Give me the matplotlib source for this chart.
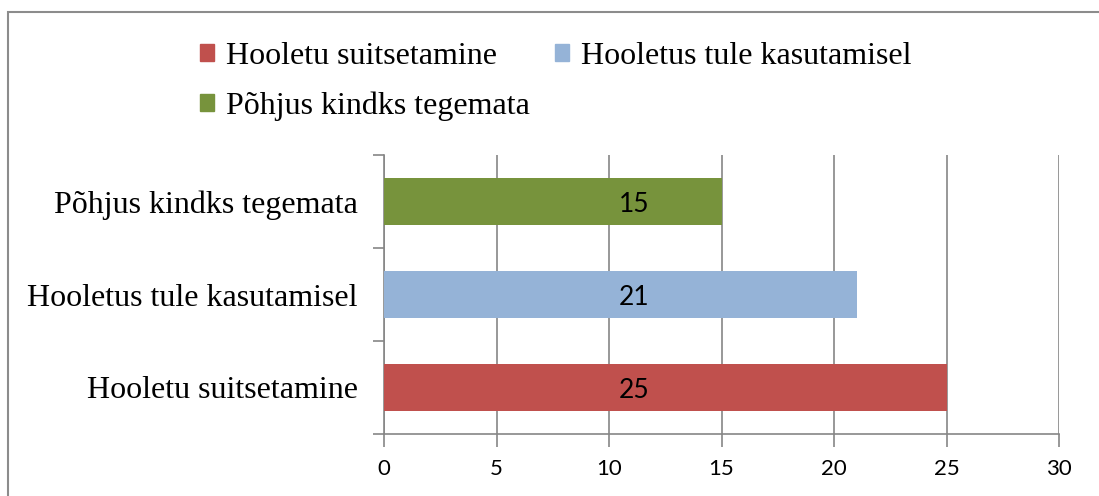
import matplotlib
matplotlib.use("Agg")
import matplotlib.pyplot as plt
from matplotlib.patches import Rectangle, Patch

categories = ["Hooletu suitsetamine", "Hooletus tule kasutamisel", "Põhjus kindks tegemata"]
values = [25, 21, 15]
colors = ["#C0504D", "#95B3D7", "#77933C"]
xticks = [0, 5, 10, 15, 20, 25, 30]

serif = "Liberation Serif"
sans = "Lato"
grid_c = "#868686"
label_x = 11.1  # the original places all value labels at about the same spot

fig = plt.figure(figsize=(10.99, 4.96), dpi=100)
ax = fig.add_axes([384 / 1099, 62 / 496, 675 / 1099, 279 / 496])

y = list(range(len(categories)))
ax.barh(y, values, height=0.5, color=colors, zorder=3)
for yi, v in zip(y, values):
    ax.text(label_x, yi - 0.03, str(v), ha="center", va="center", fontsize=19, family=sans, zorder=4)

ax.set_xlim(0, 30)
ax.set_ylim(-0.5, 2.5)
ax.set_xticks(xticks)
ax.set_xticklabels([str(t) for t in xticks], family=sans, fontsize=16)
ax.set_yticks([-0.5, 0.5, 1.5, 2.5])
ax.set_yticklabels([])
ax.set_yticks(y, minor=True)
ax.set_yticklabels(categories, minor=True, family=serif, fontsize=23)
ax.tick_params(axis="y", which="minor", length=0, pad=19)
ax.tick_params(axis="y", which="major", length=8, color=grid_c, width=1.2)
ax.tick_params(axis="x", length=9, color=grid_c, width=1.2, pad=9)
ax.grid(axis="x", color=grid_c, linewidth=1.2, zorder=0)
for s in ["top", "right"]:
    ax.spines[s].set_visible(False)
for s in ["left", "bottom"]:
    ax.spines[s].set_color(grid_c)
    ax.spines[s].set_linewidth(1.2)

handles = [Patch(color=colors[0]), Patch(color=colors[2]), Patch(color=colors[1])]
labels = [categories[0], categories[2], categories[1]]
fig.legend(handles, labels, ncol=2, loc="upper left", bbox_to_anchor=(200 / 1099, 1 - 42 / 496),
           frameon=False, prop={"family": serif, "size": 23}, handlelength=0.45, handleheight=0.45,
           handletextpad=0.35, columnspacing=0.8, labelspacing=0.65, borderpad=0, borderaxespad=0)

fig.patches.append(Rectangle((8 / 1099, -0.1), 1.2, 1 - 12 / 496 + 0.1, transform=fig.transFigure,
                             fill=False, edgecolor="#8C8C8C", linewidth=1.5))

fig.savefig("out.png", dpi=100)
